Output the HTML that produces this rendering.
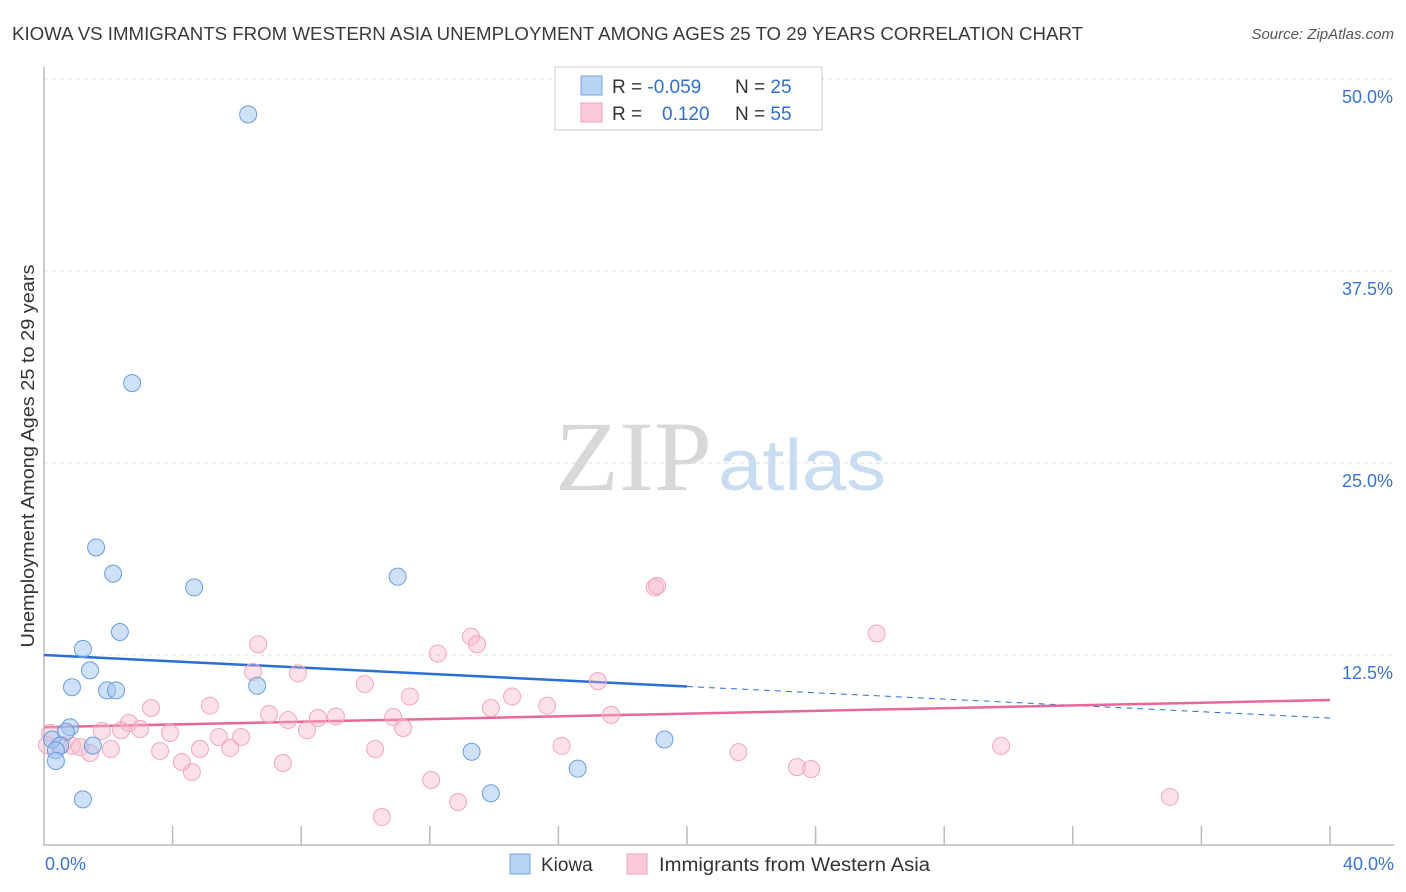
<!DOCTYPE html>
<html><head><meta charset="utf-8"><style>
body{margin:0;background:#fff;font-family:"Liberation Sans",sans-serif;}
svg{display:block}
</style></head><body>
<svg id="chart" width="1406" height="892">
<text x="12" y="40" font-size="18.5" fill="#3a3a3a" textLength="1071" lengthAdjust="spacingAndGlyphs">KIOWA VS IMMIGRANTS FROM WESTERN ASIA UNEMPLOYMENT AMONG AGES 25 TO 29 YEARS CORRELATION CHART</text>
<text x="1394" y="39" font-size="15" fill="#555" font-style="italic" text-anchor="end">Source: ZipAtlas.com</text>
<text x="555" y="490" font-size="100" fill="#d8d8d8" font-family="Liberation Serif,serif" textLength="157" lengthAdjust="spacingAndGlyphs">ZIP</text>
<text x="718" y="490" font-size="72" fill="#c8dcf2" textLength="168" lengthAdjust="spacingAndGlyphs">atlas</text>
<text transform="translate(34,456) rotate(-90)" font-size="18" fill="#333" text-anchor="middle" textLength="383" lengthAdjust="spacingAndGlyphs">Unemployment Among Ages 25 to 29 years</text>
<g id="grid"></g><g id="axes"></g><g id="lines"></g><g id="pts"></g>
<g>
<rect x="555" y="67" width="267" height="63" fill="#fff" stroke="#ccc"/>
<rect x="581" y="76" width="21" height="19" fill="#b8d2f4" stroke="#7aa6e0"/>
<rect x="581" y="103" width="21" height="19" fill="#fbcad8" stroke="#f0a0b8"/>
<text x="612" y="93" font-size="19" fill="#333">R = <tspan fill="#2f6fd0">-0.059</tspan><tspan x="735">N = </tspan><tspan fill="#2f6fd0">25</tspan></text>
<text x="612" y="120" font-size="19" fill="#333">R = <tspan x="662" fill="#2f6fd0">0.120</tspan><tspan x="735">N = </tspan><tspan fill="#2f6fd0">55</tspan></text>
</g>
<g>
<rect x="510" y="854" width="20" height="20" fill="#b8d2f4" stroke="#7aa6e0"/>
<text x="541" y="871" font-size="19" fill="#333">Kiowa</text>
<rect x="627" y="854" width="20" height="20" fill="#fbcad8" stroke="#f0a0b8"/>
<text x="659" y="871" font-size="19" fill="#333" textLength="271" lengthAdjust="spacingAndGlyphs">Immigrants from Western Asia</text>
</g>
</svg>
<script>
const blueX=[6.35,2.74,1.62,2.15,4.67,11.0,2.36,1.21,1.43,0.87,1.96,2.24,6.63,0.81,0.68,0.25,0.5,0.37,1.52,0.37,13.3,16.6,19.3,1.21,13.9];
const blueY=[47.7,30.2,19.5,17.8,16.9,17.6,14.0,12.9,11.5,10.4,10.2,10.2,10.5,7.8,7.5,7.0,6.6,6.3,6.6,5.6,6.2,5.1,7.0,3.1,3.5];
const pinkX=[19.0,19.07,25.9,13.28,13.47,6.66,12.25,6.5,7.9,17.23,9.98,11.38,14.56,3.33,5.16,15.65,13.9,7.0,9.08,7.59,8.52,10.86,17.64,2.64,11.17,8.18,1.8,2.4,2.99,3.92,0.19,5.44,6.13,0.09,0.56,0.87,1.12,2.08,3.61,4.85,5.79,10.3,16.1,21.6,29.77,1.43,4.29,4.6,7.43,23.42,23.86,12.04,12.88,10.51,35.02];
const pinkY=[16.9,17.0,13.9,13.7,13.2,13.2,12.6,11.4,11.3,10.8,10.6,9.8,9.8,9.05,9.2,9.2,9.05,8.66,8.5,8.27,8.4,8.46,8.6,8.07,7.75,7.6,7.55,7.6,7.68,7.42,7.42,7.16,7.16,6.64,6.64,6.58,6.5,6.38,6.25,6.38,6.45,6.38,6.58,6.18,6.58,6.12,5.53,4.88,5.47,5.2,5.08,4.36,2.93,1.95,3.26];
const yTicks=[12.5,25.0,37.5,50.0];
const xTickLabels=["0.0%","40.0%"];
const blueTrend=[12.5,8.4];
const pinkTrend=[7.8,9.57];
const NS="http://www.w3.org/2000/svg";
const sx=v=>44+v*32.15, sy=v=>847-v*15.36;
function mk(tag,attrs,parent){const e=document.createElementNS(NS,tag);for(const k in attrs)e.setAttribute(k,attrs[k]);document.getElementById(parent).appendChild(e);return e;}
yTicks.forEach(t=>{
 const l=mk('line',{x1:44,x2:1394,y1:sy(t),y2:sy(t),stroke:'#ddd','stroke-dasharray':'4,4'},'grid');
 
 
 const tx=mk('text',{x:1393,y:sy(t)+24,'font-size':18,fill:'#3a74d0','text-anchor':'end'},'grid');
 tx.textContent=t.toFixed(1)+'%';
 
 
});
const ax=mk('path',{d:'M44,67V845H1394',fill:'none',stroke:'#bbb','stroke-width':1.5},'axes');


for(let i=1;i<=10;i++){const t=mk('line',{x1:sx(i*4),x2:sx(i*4),y1:826,y2:845,stroke:'#bbb','stroke-width':1.5},'axes');

}
[[0,'start',45],[40,'end',1394]].forEach((d,i)=>{const t=mk('text',{x:d[2],y:870,'font-size':18,fill:'#3a74d0','text-anchor':d[1]},'axes');t.textContent=xTickLabels[i];

});
function pts(X,Y,fill,stroke,name){X.forEach((x,i)=>{const c=mk('circle',{cx:sx(x),cy:sy(Y[i]),r:8.5,fill:fill,stroke:stroke,'stroke-width':1},'pts');

});}
pts(pinkX,pinkY,'rgba(248,180,200,0.4)','#f2a6bd','immigrants-point');
pts(blueX,blueY,'rgba(160,196,240,0.5)','#6a9de0','kiowa-point');
const bm=blueTrend[0]+(blueTrend[1]-blueTrend[0])*0.5;
let l1=mk('line',{x1:sx(0),y1:sy(blueTrend[0]),x2:sx(20),y2:sy(bm),stroke:'#2b6fd6','stroke-width':2.5},'lines');


let l2=mk('line',{x1:sx(20),y1:sy(bm),x2:sx(40),y2:sy(blueTrend[1]),stroke:'#2b6fd6','stroke-width':1,'stroke-dasharray':'6,5'},'lines');


let l3=mk('line',{x1:sx(0),y1:sy(pinkTrend[0]),x2:sx(40),y2:sy(pinkTrend[1]),stroke:'#e8679a','stroke-width':2.5},'lines');


</script>
</body></html>
